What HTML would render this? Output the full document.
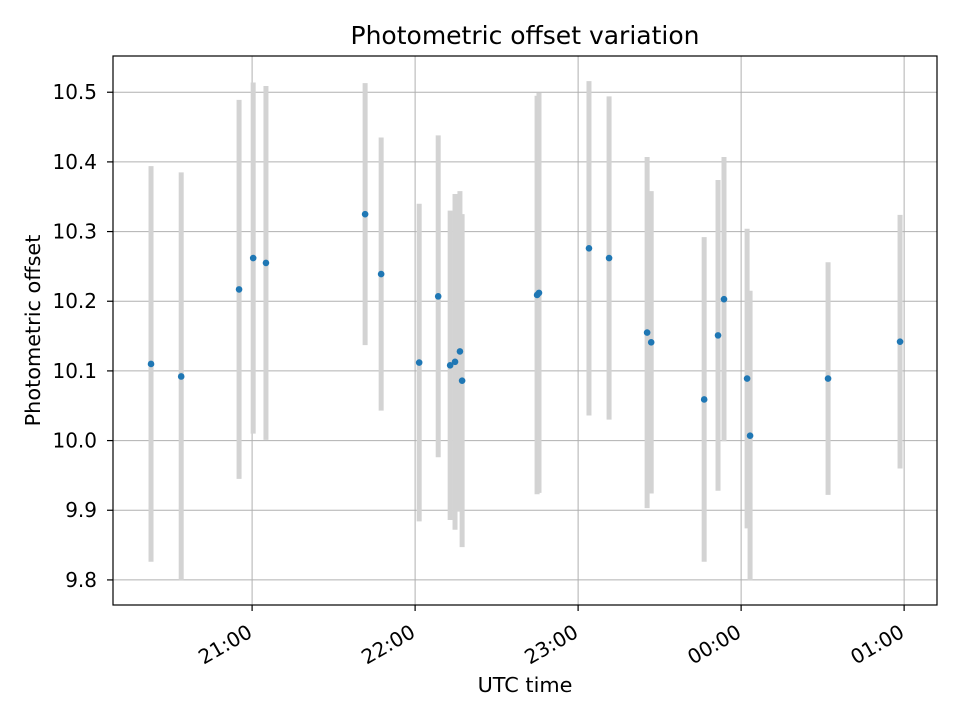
<!DOCTYPE html>
<html><head><meta charset="utf-8"><style>
body{margin:0;background:#fff;font-family:"Liberation Sans","DejaVu Sans",sans-serif}
svg text{font-family:"DejaVu Sans","Liberation Sans",sans-serif;fill:#000}
</style></head><body>
<svg id="chart" width="960" height="720"></svg>
<script>
// minutes after 20:00 UTC
const times=[22.8,33.9,55.2,60.4,65.1,101.6,107.5,121.5,128.5,132.9,134.7,136.5,137.3,164.9,165.6,184.0,191.4,205.4,206.9,226.4,231.5,233.7,242.2,243.3,272.0,298.5];
const offsets=[10.11,10.092,10.217,10.262,10.255,10.325,10.239,10.112,10.207,10.108,10.113,10.128,10.086,10.209,10.212,10.276,10.262,10.155,10.141,10.059,10.151,10.203,10.089,10.007,10.089,10.142];
const errors=[0.284,0.293,0.272,0.252,0.254,0.188,0.196,0.228,0.231,0.222,0.241,0.23,0.239,0.286,0.287,0.24,0.232,0.252,0.217,0.233,0.223,0.204,0.215,0.208,0.167,0.182];
const yTicks=[9.8,9.9,10.0,10.1,10.2,10.3,10.4,10.5];
const xTickMinutes=[60,120,180,240,300];
const xTickLabels=["21:00","22:00","23:00","00:00","01:00"];

const L=113,R=937,T=56,B=605;
const xMin=8.8,xMax=312.1,yMin=9.764,yMax=10.552;
const sx=m=>L+(m-xMin)/(xMax-xMin)*(R-L);
const sy=v=>B-(v-yMin)/(yMax-yMin)*(B-T);
const NS="http://www.w3.org/2000/svg";
const svg=document.getElementById('chart');
function mk(tag,attrs,parent){const e=document.createElementNS(NS,tag);for(const k in attrs)e.setAttribute(k,attrs[k]);(parent||svg).appendChild(e);return e;}

const grid=mk('g',{});


yTicks.forEach(v=>{
  const y=sy(v);
  const g=mk('line',{x1:L,x2:R,y1:y,y2:y,stroke:'#b0b0b0','stroke-width':1},grid);
  
  
  const t=mk('line',{x1:L-6,x2:L,y1:y,y2:y,stroke:'#000','stroke-width':1.2});
  
  
  const lb=mk('text',{x:L-16,y:y+7,'text-anchor':'end','font-size':20});
  lb.textContent=v.toFixed(1);
  
  
});
xTickMinutes.forEach((m,i)=>{
  const x=sx(m);
  const g=mk('line',{x1:x,x2:x,y1:T,y2:B,stroke:'#b0b0b0','stroke-width':1},grid);
  
  
  const t=mk('line',{x1:x,x2:x,y1:B,y2:B+6,stroke:'#000','stroke-width':1.2});
  
  
  const ax=x+1.5,ay=B+31;
  const lb=mk('text',{x:ax,y:ay,'text-anchor':'end','font-size':20,transform:`rotate(-30 ${ax} ${ay})`});
  lb.textContent=xTickLabels[i];
  
  
});

const eb=mk('g',{});


times.forEach((m,i)=>{
  const l=mk('line',{x1:sx(m),x2:sx(m),y1:sy(offsets[i]+errors[i]),y2:sy(offsets[i]-errors[i]),stroke:'#d3d3d3','stroke-width':5},eb);
  
  
});
const pts=mk('g',{});


times.forEach((m,i)=>{
  const c=mk('circle',{cx:sx(m),cy:sy(offsets[i]),r:3.3,fill:'#1f77b4'},pts);
  
  
});

const frame=mk('rect',{x:L,y:T,width:R-L,height:B-T,fill:'none',stroke:'#000','stroke-width':1.2});



const title=mk('text',{x:(L+R)/2,y:44,'text-anchor':'middle','font-size':25});
title.textContent='Photometric offset variation';


const xl=mk('text',{x:(L+R)/2,y:692,'text-anchor':'middle','font-size':20.8});
xl.textContent='UTC time';


const yc=(T+B)/2, yx=40;
const yl=mk('text',{x:yx,y:yc,'text-anchor':'middle','font-size':20.8,transform:`rotate(-90 ${yx} ${yc})`});
yl.textContent='Photometric offset';


</script>
</body></html>
